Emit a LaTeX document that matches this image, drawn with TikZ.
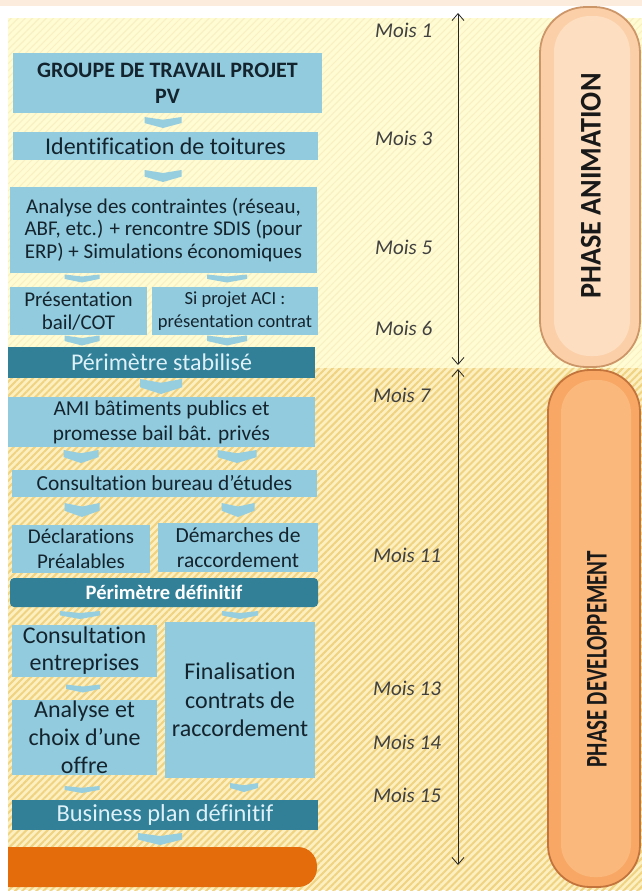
\documentclass[tikz,border=0pt]{standalone}
\usepackage{fontspec}
\setmainfont{Carlito}[Ligatures=NoCommon]
\usepackage{graphicx}
\usetikzlibrary{arrows.meta,patterns.meta,calc}
\definecolor{boxblue}{RGB}{146,203,221}
\definecolor{chevblue}{RGB}{150,206,224}
\definecolor{darkteal}{RGB}{49,128,152}
\definecolor{txt}{RGB}{20,36,46}
\definecolor{lighttxt}{RGB}{222,241,248}
\definecolor{paleyel}{RGB}{255,251,210}
\definecolor{palestripe}{RGB}{248,240,194}
\definecolor{tanbase}{RGB}{252,239,192}
\definecolor{tanstripe}{RGB}{240,211,130}
\definecolor{topstrip}{RGB}{252,236,222}
\definecolor{pillA}{RGB}{251,207,168}
\definecolor{pillAin}{RGB}{253,222,192}
\definecolor{pillAedge}{RGB}{205,150,105}
\definecolor{pillB}{RGB}{248,168,100}
\definecolor{pillBin}{RGB}{250,184,124}
\definecolor{pillBedge}{RGB}{195,115,60}
\definecolor{orangebar}{RGB}{228,108,10}
\newcommand\fs[2]{\fontsize{#1}{#2}\selectfont}
\begin{document}
\begin{tikzpicture}[x=1pt,y=-1pt,
  lb/.style={fill=boxblue, text=txt, align=center, inner sep=0pt},
  db/.style={fill=darkteal, text=lighttxt, align=center, inner sep=0pt},
  chev/.pic={\fill[chevblue] (-1,-0.5) -- (0,-0.25) -- (1,-0.5) -- (1,0.05) -- (0,0.5) -- (-1,0.05) -- cycle;},
  mois/.style={font=\fs{21}{24}\itshape, text=black!75, anchor=west, inner sep=0pt},
  tl/.style={draw=black!85, line width=0.8pt, {Straight Barb[length=7pt,width=12pt]}-{Straight Barb[length=7pt,width=12pt]}},
  phase/.style={rotate=90, font=\fs{30}{34}\bfseries, text=black!90, inner sep=0pt}
]
\useasboundingbox (0,0) rectangle (642,892);
% background
\fill[white] (0,0) rectangle (642,892);
\fill[topstrip] (0,0) rectangle (642,6);
\fill[paleyel] (8,18) rectangle (642,368);
\fill[pattern={Lines[angle=45,distance=5pt,line width=1pt]}, pattern color=palestripe] (8,18) rectangle (642,368);
\fill[tanbase] (8,368) rectangle (642,890);
\fill[pattern={Lines[angle=45,distance=5pt,line width=2pt]}, pattern color=tanstripe] (8,368) rectangle (642,890);

% phase pills
\node[rotate=90, minimum width=360pt, minimum height=100pt, rounded corners=46pt, fill=pillA, draw=pillAedge, line width=1.8pt] (pa) at (590,187) {};
\node[rotate=90, minimum width=340pt, minimum height=76pt, rounded corners=36pt, fill=pillAin] (pai) at (592,186) {};
\node[phase] (pat) at (591,186) {\scalebox{0.94}[1]{PHASE ANIMATION}};
\node[rotate=90, minimum width=517pt, minimum height=92pt, rounded corners=42pt, fill=pillB, draw=pillBedge, line width=1.8pt] (pb) at (594,628.5) {};
\node[rotate=90, minimum width=497pt, minimum height=70pt, rounded corners=33pt, fill=pillBin] (pbi) at (596,628.5) {};
\node[phase] (pbt) at (597,659) {\scalebox{0.7}[1]{PHASE DEVELOPPEMENT}};

% timeline
\coordinate (t1a) at (458,13);
\coordinate (t1b) at (458,365);
\coordinate (t2a) at (458,369);
\coordinate (t2b) at (458,865);
\draw[tl] (t1a) -- (t1b);
\draw[tl] (t2a) -- (t2b);

\node[mois] (m1) at (375,30) {Mois 1};
\node[mois] (m3) at (375,138) {Mois 3};
\node[mois] (m5) at (375,247) {Mois 5};
\node[mois] (m6) at (375,328) {Mois 6};
\node[mois] (m7) at (373,395) {Mois 7};
\node[mois] (m11) at (373,555) {Mois 11};
\node[mois] (m13) at (373,688) {Mois 13};
\node[mois] (m14) at (373,742) {Mois 14};
\node[mois] (m15) at (373,795) {Mois 15};

% boxes
\node[lb, minimum width=309pt, minimum height=60pt, font=\fs{22}{26}\bfseries] (g) at (167.5,83) {GROUPE DE TRAVAIL PROJET\\PV};
\node[lb, minimum width=305pt, minimum height=28pt, font=\fs{24}{28}] (id) at (165.5,146) {Identification de toitures};
\node[lb, minimum width=307pt, minimum height=86pt, font=\fs{21}{22.5}] (an) at (163.5,230) {Analyse des contraintes (réseau,\\ABF, etc.) + rencontre SDIS (pour\\ERP) + Simulations économiques};
\node[lb, minimum width=137pt, minimum height=48pt, font=\fs{21}{23}] (pr) at (78.5,311) {Présentation\\bail/COT};
\node[lb, minimum width=166pt, minimum height=48pt, font=\fs{18.5}{23}] (si) at (235,311) {Si projet ACI :\\présentation contrat};
\node[db, minimum width=307pt, minimum height=31pt, font=\fs{24}{28}] (ps) at (161.5,362.5) {Périmètre stabilisé};
\node[lb, minimum width=307pt, minimum height=50pt, font=\fs{21.3}{25}] (ami) at (161.5,422) {AMI bâtiments publics et\\promesse bail bât. privés};
\node[lb, minimum width=305pt, minimum height=27pt, font=\fs{21.4}{25}] (cb) at (164.5,483.5) {Consultation bureau d’études};
\node[lb, minimum width=138pt, minimum height=48pt, font=\fs{21}{25}] (de) at (81,549) {Déclarations\\Préalables};
\node[lb, minimum width=160pt, minimum height=49pt, font=\fs{21.5}{25}] (dm) at (238,547.5) {Démarches de\\raccordement};
\node[db, rounded corners=4pt, minimum width=308pt, minimum height=29pt, font=\fs{20.5}{24}\bfseries, text=white] (pd) at (164,592.5) {Périmètre définitif};
\node[lb, minimum width=145pt, minimum height=52pt, font=\fs{24}{27}] (ce) at (84.5,651) {Consultation\\entreprises};
\node[lb, minimum width=150pt, minimum height=156pt, font=\fs{24}{28.5}] (fi) at (240,700) {Finalisation\\contrats de\\raccordement};
\node[lb, minimum width=145pt, minimum height=75pt, font=\fs{24}{28}] (ac) at (84.5,737.5) {Analyse et\\choix d’une\\offre};
\node[db, minimum width=306pt, minimum height=30pt, font=\fs{24.4}{28}] (bp) at (165,815) {Business plan définitif};
\fill[orangebar] (8,847) -- (270,847) [rounded corners=19pt] -- (317,847) -- (317,887) -- (270,887) [sharp corners] -- (8,887) -- cycle;
\coordinate (ob) at (162,847);

% chevrons
\pic[xscale=18.5, yscale=11] at (163,122.5) {chev};
\pic[xscale=18.5, yscale=12] at (163,176) {chev};
\pic[xscale=17.5, yscale=8] at (82,278.5) {chev};
\pic[xscale=20, yscale=8] at (227,278.5) {chev};
\pic[xscale=17.5, yscale=10] at (82,340.5) {chev};
\pic[xscale=20, yscale=10] at (227,340.5) {chev};
\pic[xscale=21, yscale=15] at (161,386.5) {chev};
\pic[xscale=17.5, yscale=13] at (81,456.5) {chev};
\pic[xscale=19.5, yscale=13] at (237,456.5) {chev};
\pic[xscale=17.5, yscale=14] at (82,510) {chev};
\pic[xscale=16.5, yscale=14] at (238,510) {chev};
\pic[xscale=20, yscale=8] at (80,615) {chev};
\pic[xscale=18, yscale=8] at (240,615) {chev};
\pic[xscale=17, yscale=8] at (83,688.5) {chev};
\pic[xscale=17.5, yscale=7] at (82,789.5) {chev};
\pic[xscale=14, yscale=9] at (244,787.5) {chev};
\pic[xscale=22, yscale=12] at (160,839) {chev};
\end{tikzpicture}
\end{document}
